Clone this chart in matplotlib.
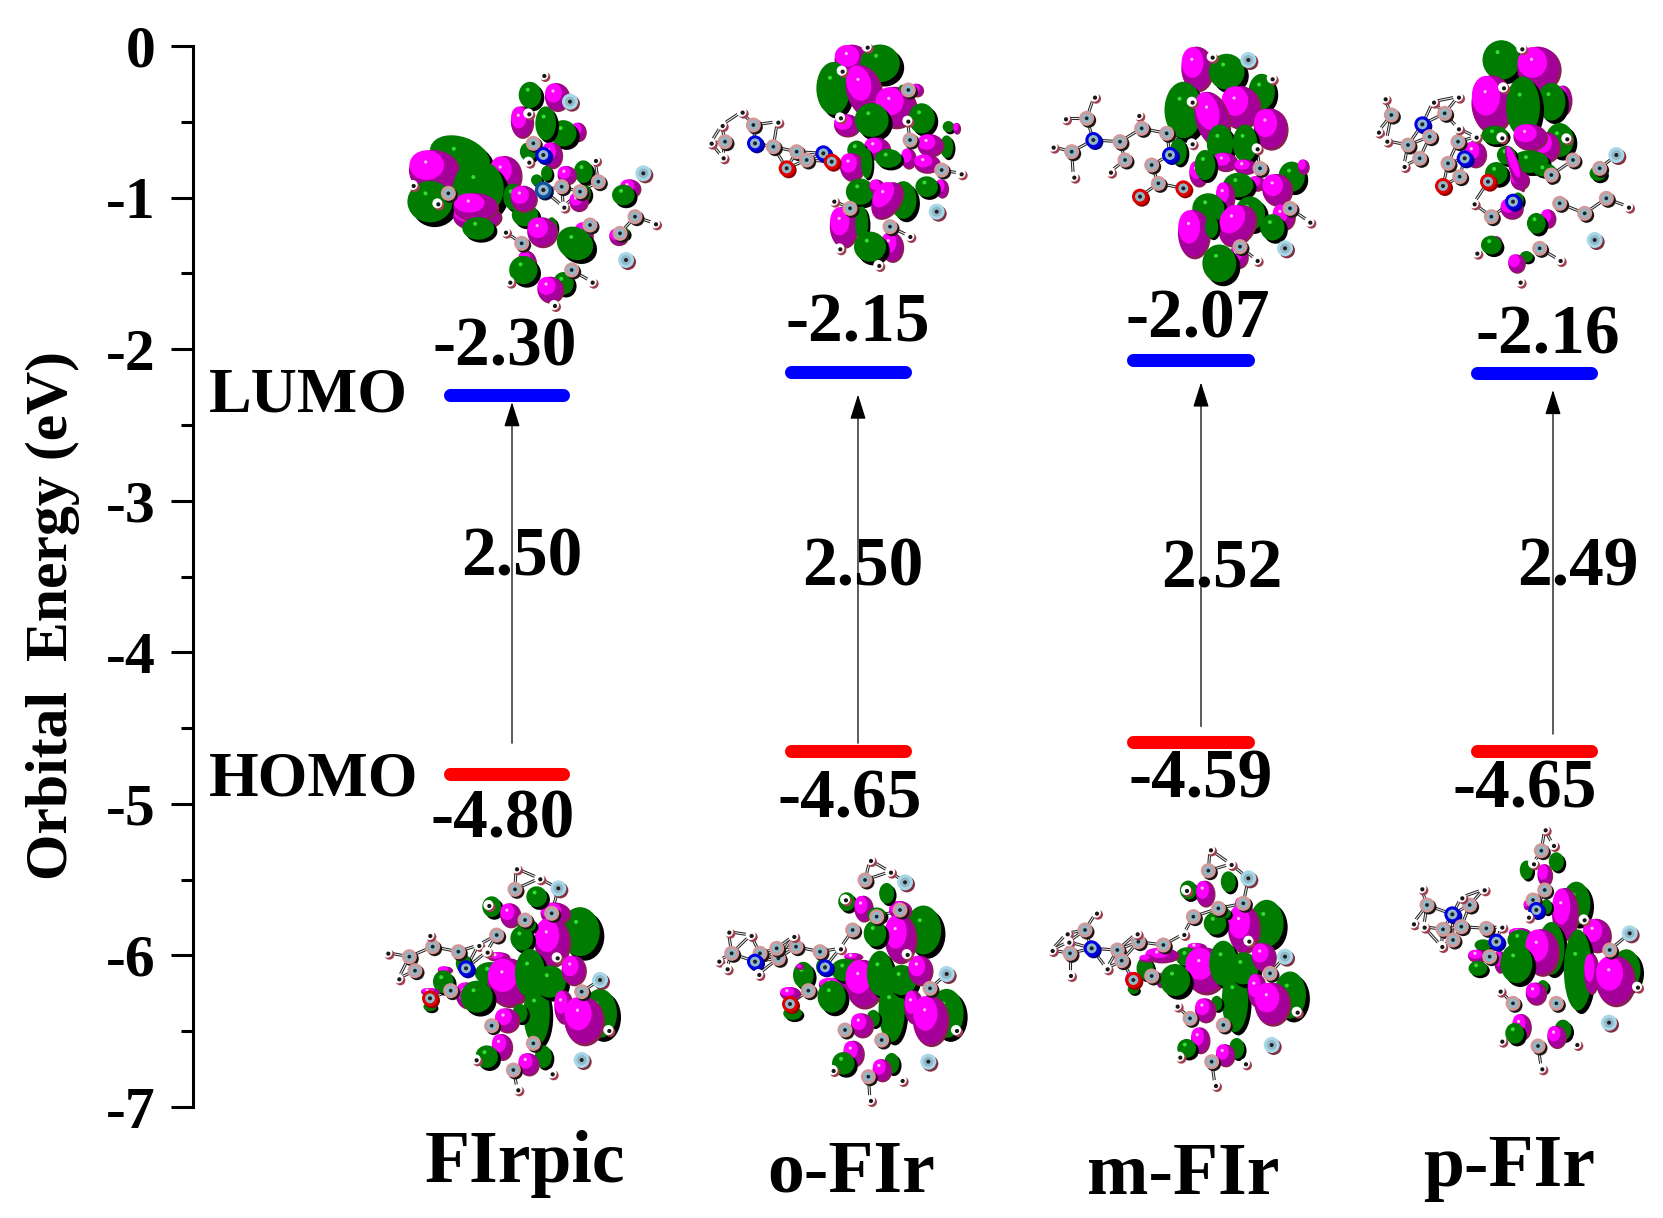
import numpy as np
import matplotlib
matplotlib.use("Agg")
import matplotlib.pyplot as plt
from matplotlib.patches import Ellipse, Circle

plt.rcParams['font.family'] = ['Liberation Serif', 'DejaVu Serif']
plt.rcParams['font.weight'] = 'bold'
plt.rcParams['axes.unicode_minus'] = False

W, H = 1663, 1218

# chart values
names = ['FIrpic', 'o-FIr', 'm-FIr', 'p-FIr']
lumo = [-2.30, -2.15, -2.07, -2.16]
homo = [-4.80, -4.65, -4.59, -4.65]
gap = ['2.50', '2.50', '2.52', '2.49']
arrow_top = [-2.35, -2.30, -2.22, -2.27]
arrow_bottom = [-4.60, -4.60, -4.49, -4.54]
yticks = [0, -1, -2, -3, -4, -5, -6, -7]
yminor = [-0.5, -1.5, -2.5, -3.5, -4.5, -5.5, -6.5]

# layout in pixels of the picture
bar_left = [450, 791, 1133, 1477]
bar_right = [563, 905, 1248, 1591]
arrow_x = [512, 858, 1201, 1553]
lumo_pos = [(505, 365), (858, 341), (1198, 337), (1548, 353)]
homo_pos = [(503, 838), (850, 818), (1201, 798), (1525, 808)]
gap_pos = [(522, 575), (863, 585), (1222, 588), (1578, 586)]
name_pos = [(525, 1182), (851, 1192), (1183, 1194), (1509, 1186)]

# orbital pictures: crop origin, lobes (x, y, w, h, angle, colour), atoms (kind, x, y)
# lobe and atom coordinates were read from 3x zooms
origins = [(380, 60), (700, 30), (1040, 30), (1363, 30),
           (380, 850), (710, 850), (1040, 840), (1363, 820)]

lobes_1 = [(240,290,165,105,20,'g'),(375,345,85,105,0,'m'),(160,332,135,115,0,'m'),(150,425,120,110,0,'g'),
           (295,385,135,150,0,'g'),(290,470,130,70,0,'m'),(285,440,120,75,0,'m'),(295,505,85,60,0,'g'),
           (398,410,50,70,0,'g'),(435,465,70,60,0,'g'),(430,415,70,70,0,'m'),(515,500,30,50,0,'g'),
           (485,515,80,80,0,'m'),(610,525,50,70,0,'m'),(585,550,100,85,30,'g'),(440,610,50,70,0,'m'),
           (430,630,75,75,0,'g'),(550,670,55,60,0,'g'),(510,688,70,70,0,'m'),(735,520,25,30,0,'g'),
           (715,530,50,45,0,'m'),(750,385,55,50,0,'m'),(730,405,60,55,0,'g'),(610,400,40,50,0,'g'),
           (595,425,50,50,0,'m'),(610,335,50,60,0,'g'),(560,345,50,50,0,'m'),(595,215,40,50,0,'m'),
           (550,220,70,70,0,'g'),(445,275,45,50,0,'g'),(425,185,60,85,0,'m'),(497,190,55,90,0,'g'),
           (515,285,55,70,0,'m'),(450,105,60,70,0,'g'),(530,110,65,75,0,'m'),(470,360,30,30,0,'g'),
           (500,340,30,40,0,'g')]
atoms_1 = [('h',490,45),('f',570,125),('h',445,160),('c',460,250),('h',445,305),('n',490,285),('h',645,300),
           ('c',655,365),('c',545,380),('i',490,390),('f',790,340),('c',765,470),('h',825,490),('c',630,495),
           ('c',720,520),('f',738,600),('c',575,630),('h',635,665),('c',425,550),('h',375,515),('h',388,665),
           ('h',522,735),('c',205,400),('h',172,430),('h',98,375),('h',550,440),('c',600,395)]

lobes_2 = [(455,90,95,85,0,'m'),(540,100,105,100,0,'g'),(400,175,90,140,0,'g'),(490,180,95,140,-15,'m'),
           (440,285,70,60,0,'m'),(585,230,110,110,0,'m'),(515,270,90,90,0,'g'),(665,265,70,80,0,'g'),
           (650,180,35,35,0,'m'),(610,175,25,20,0,'g'),(530,355,70,60,0,'m'),(470,360,50,50,0,'g'),
           (625,385,40,55,0,'m'),(565,385,70,50,0,'g'),(455,410,65,75,0,'m'),(500,400,30,80,0,'g'),
           (740,350,35,60,0,'g'),(690,345,70,60,0,'m'),(680,400,70,50,0,'m'),(745,290,30,30,0,'g'),
           (770,295,20,30,0,'m'),(480,485,75,70,0,'g'),(530,470,40,40,0,'m'),(610,510,70,100,0,'g'),
           (560,510,70,110,35,'m'),(725,475,35,50,0,'m'),(680,470,60,55,0,'g'),(430,590,75,110,0,'m'),
           (485,580,35,90,0,'g'),(575,650,60,80,0,'m'),(510,650,85,80,0,'g')]
atoms_2 = [('h',500,50),('h',425,122),('h',420,262),('h',622,272),('c',630,330),('c',725,420),('h',782,430),
           ('f',710,545),('c',570,590),('h',628,618),('h',535,705),('c',450,535),('h',400,512),('h',418,655),
           ('c',625,180),('h',125,245),('c',160,285),('h',232,275),('n',165,340),('c',75,335),('h',65,285),
           ('h',32,338),('h',68,382),('c',220,350),('c',290,365),('c',320,390),('o',260,415),('n',370,370),
           ('o',395,395)]

lobes_3 = [(470,115,85,120,0,'m'),(560,125,95,95,0,'g'),(430,240,100,150,0,'g'),(665,185,70,95,0,'g'),
           (600,230,105,115,0,'m'),(515,265,90,150,-15,'m'),(690,295,90,110,0,'m'),(540,340,70,100,0,'g'),
           (615,340,65,100,0,'g'),(415,365,45,70,0,'g'),(555,395,65,50,0,'m'),(615,410,60,40,0,'m'),
           (475,430,50,70,0,'m'),(495,405,55,80,0,'g'),(650,460,45,40,0,'m'),(595,465,80,65,0,'g'),
           (755,440,70,80,0,'g'),(790,410,30,40,0,'m'),(710,478,80,85,0,'m'),(555,500,50,80,0,'m'),
           (505,535,85,80,0,'g'),(630,550,80,90,0,'g'),(590,585,90,120,35,'m'),(730,560,60,70,0,'m'),
           (697,592,65,70,0,'g'),(460,610,85,130,0,'m'),(515,590,35,60,0,'g'),(595,680,50,60,0,'m'),
           (538,700,90,100,0,'g')]
atoms_3 = [('h',515,80),('f',625,90),('h',695,145),('h',455,215),('c',380,310),('h',295,255),('c',305,295),
           ('c',240,335),('n',160,330),('c',140,265),('h',162,200),('h',75,265),('c',95,365),('h',38,350),
           ('h',100,440),('c',255,390),('h',210,425),('c',335,405),('n',390,375),('c',355,460),('o',430,475),
           ('o',300,500),('h',650,355),('c',660,415),('c',750,535),('h',808,575),('f',735,655),('c',600,650),
           ('h',650,690),('h',455,340)]

lobes_4 = [(415,90,100,105,0,'g'),(525,115,115,120,0,'m'),(600,210,45,80,0,'m'),(565,215,75,100,0,'g'),
           (385,220,110,155,0,'m'),(480,230,90,160,0,'g'),(395,315,70,50,0,'g'),(590,330,75,90,0,'g'),
           (550,350,70,80,0,'m'),(500,320,90,70,0,'m'),(500,395,100,60,0,'g'),(430,375,50,50,0,'g'),
           (400,430,60,60,0,'g'),(545,420,60,35,0,'g'),(470,450,50,50,0,'m'),(455,415,30,130,-20,'m'),
           (335,372,60,70,0,'m'),(465,510,30,40,0,'g'),(445,535,60,55,0,'m'),(555,565,40,50,0,'m'),
           (520,580,50,55,0,'g'),(400,640,30,40,0,'m'),(385,645,55,50,0,'g'),(490,680,35,30,0,'g'),
           (460,700,45,50,0,'m'),(705,430,45,40,0,'g'),(565,440,30,40,0,'m')]
atoms_4 = [('h',475,55),('h',420,172),('h',415,322),('h',610,325),('c',630,390),('c',565,435),('c',710,415),
           ('f',760,375),('c',730,505),('h',795,530),('c',665,550),('f',695,630),('c',590,520),('c',530,655),
           ('h',590,690),('h',470,755),('c',385,560),('h',332,520),('h',340,668),('n',450,515),('h',65,205),
           ('c',85,255),('n',178,283),('c',245,250),('h',210,215),('h',285,200),('h',45,305),('h',70,332),
           ('c',135,345),('c',170,385),('h',122,408),('c',200,320),('c',285,335),('h',285,295),('h',338,320),
           ('c',255,400),('c',290,440),('o',240,468),('o',375,455),('n',305,385)]

lobes_5 = [(600,245,105,130,0,'g'),(525,190,80,60,0,'m'),(515,275,95,130,0,'m'),(470,140,55,55,0,'g'),
           (335,170,50,55,0,'g'),(390,195,55,65,0,'m'),(440,225,50,40,0,'g'),(425,265,60,65,0,'g'),
           (355,320,60,25,0,'m'),(330,370,80,60,0,'g'),(385,395,115,130,0,'m'),(450,370,80,130,0,'g'),
           (470,490,70,170,0,'g'),(510,395,85,85,0,'g'),(580,360,65,80,0,'m'),(660,490,90,130,0,'g'),
           (550,470,50,90,0,'m'),(610,510,105,130,0,'m'),(420,490,40,50,0,'g'),(380,510,65,65,0,'m'),
           (260,435,60,70,0,'m'),(290,440,85,85,0,'g'),(250,340,40,50,0,'g'),(195,360,40,20,0,'m'),
           (190,395,55,60,0,'g'),(365,590,55,70,0,'m'),(320,620,60,60,0,'g'),(490,620,45,60,0,'g'),
           (445,642,55,60,0,'m'),(150,425,50,20,0,'m'),(150,470,35,25,0,'g')]
atoms_5 = [('h',408,55),('c',405,118),('h',478,85),('f',535,115),('c',515,190),('c',435,210),('c',350,255),
           ('h',295,285),('h',320,305),('c',235,305),('n',258,355),('c',158,290),('h',148,255),('c',88,320),
           ('h',22,308),('c',105,362),('h',55,385),('c',212,422),('o',150,445),('h',325,165),('h',530,322),
           ('h',685,540),('f',660,390),('c',605,425),('f',605,630),('c',335,527),('h',287,628),('c',400,660),
           ('h',412,718),('h',515,670),('c',460,580)]

lobes_6 = [(640,240,95,130,0,'g'),(570,180,60,50,0,'m'),(570,265,85,130,0,'m'),(530,130,40,55,0,'g'),
           (410,155,45,50,0,'g'),(460,175,50,70,0,'m'),(500,195,50,40,0,'g'),(495,250,60,70,0,'g'),
           (430,320,50,20,0,'m'),(370,405,80,40,0,'m'),(405,360,75,60,0,'g'),(460,400,100,130,0,'m'),
           (510,370,70,120,0,'g'),(545,480,70,170,0,'g'),(575,390,80,80,0,'g'),(630,360,65,80,0,'m'),
           (710,490,90,130,0,'g'),(610,470,50,90,0,'m'),(660,510,95,135,0,'m'),(490,505,35,45,0,'g'),
           (455,525,60,65,0,'m'),(365,440,75,85,0,'g'),(280,375,55,70,0,'g'),(335,350,30,40,0,'g'),
           (270,350,20,15,0,'m'),(240,430,55,35,0,'m'),(248,490,50,35,0,'g'),(430,610,55,70,0,'m'),
           (400,640,60,60,0,'g'),(545,640,40,55,0,'g'),(515,660,50,60,0,'m')]
atoms_6 = [('h',480,30),('c',465,90),('h',540,65),('f',585,97),('c',570,180),('c',500,200),('c',428,240),
           ('h',390,295),('c',330,305),('n',345,352),('c',258,290),('h',250,258),('c',205,325),('c',150,310),
           ('h',122,255),('n',135,335),('c',65,310),('h',55,245),('h',25,332),('h',50,355),('h',145,372),
           ('c',295,422),('o',240,462),('h',405,148),('h',590,312),('h',738,540),('f',710,372),('c',660,415),
           ('f',655,635),('c',405,540),('h',368,660),('c',475,680),('h',480,750),('h',575,690),('c',515,570),
           ('c',200,295)]

lobes_7 = [(680,250,90,125,0,'g'),(610,190,45,35,0,'m'),(610,265,85,130,0,'m'),(565,125,40,55,0,'g'),
           (445,150,45,50,0,'g'),(495,160,50,70,0,'m'),(550,220,40,30,0,'g'),(525,250,60,60,0,'g'),
           (470,320,50,20,0,'m'),(440,350,60,50,0,'g'),(495,390,110,125,0,'m'),(550,370,75,120,0,'g'),
           (585,480,70,170,0,'g'),(610,385,80,85,0,'g'),(670,350,65,75,0,'m'),(750,465,85,125,0,'g'),
           (650,450,50,90,0,'m'),(695,490,95,115,0,'m'),(530,490,30,40,0,'g'),(495,510,55,65,0,'m'),
           (360,420,20,40,0,'m'),(405,420,80,85,0,'g'),(365,345,90,40,0,'m'),(315,385,45,60,0,'g'),
           (320,355,40,20,0,'m'),(280,420,45,45,0,'m'),(280,448,30,25,0,'g'),(480,600,50,70,0,'m'),
           (440,625,50,50,0,'g'),(590,625,40,55,0,'g'),(555,645,50,60,0,'m')]
atoms_7 = [('h',510,28),('c',505,92),('h',572,72),('f',625,115),('c',610,190),('c',535,205),('c',460,230),
           ('h',430,282),('c',370,315),('c',295,305),('h',290,280),('c',232,330),('c',245,362),('h',200,385),
           ('n',155,325),('c',135,270),('h',168,218),('h',80,280),('h',85,305),('c',90,340),('h',35,330),
           ('h',90,405),('c',335,408),('o',280,420),('h',438,150),('h',625,302),('h',770,515),('f',735,350),
           ('c',690,400),('f',695,615),('c',450,535),('h',410,497),('h',418,650),('c',515,665),('h',525,735),
           ('h',615,670),('c',550,555)]

lobes_8 = [(640,250,75,115,0,'g'),(605,280,70,140,0,'m'),(580,125,40,50,0,'g'),(490,150,35,50,0,'g'),
           (545,165,40,60,0,'m'),(550,260,30,40,0,'g'),(490,255,15,25,0,'m'),(700,345,75,90,0,'m'),
           (470,340,60,30,0,'m'),(470,360,65,55,0,'g'),(565,385,70,140,0,'g'),(535,395,90,125,0,'m'),
           (645,450,75,215,0,'g'),(790,450,75,110,0,'g'),(685,460,40,110,0,'m'),(755,480,105,135,0,'m'),
           (410,425,30,60,0,'m'),(460,430,85,105,0,'g'),(540,500,30,35,0,'g'),(518,520,55,60,0,'m'),
           (360,375,45,30,0,'g'),(345,408,55,35,0,'m'),(345,445,50,40,0,'g'),(475,620,50,70,0,'m'),
           (455,640,50,55,0,'g'),(600,630,45,55,0,'g'),(580,650,50,60,0,'m')]
atoms_8 = [('h',545,28),('c',535,92),('h',570,75),('h',510,130),('c',545,210),('c',510,240),('n',520,270),
           ('h',495,290),('h',662,298),('c',740,390),('f',800,340),('h',822,500),('f',738,608),('c',580,550),
           ('c',450,550),('h',410,512),('h',415,662),('c',525,678),('h',535,745),('h',640,672),('n',268,283),
           ('c',192,255),('h',175,205),('h',150,310),('h',182,320),('c',240,328),('c',270,360),('h',235,378),
           ('c',320,255),('h',295,232),('h',362,208),('c',295,320),('c',370,325),('h',415,320),('c',380,410),
           ('n',400,365)]

all_lobes = [lobes_1, lobes_2, lobes_3, lobes_4, lobes_5, lobes_6, lobes_7, lobes_8]
all_atoms = [atoms_1, atoms_2, atoms_3, atoms_4, atoms_5, atoms_6, atoms_7, atoms_8]

atom_size = {'h': 5, 'c': 7.5, 'f': 8, 'n': 8, 'o': 8, 'i': 8.5}
atom_face = {'h': 'white', 'c': '#d09a9a', 'f': '#a8d8e8', 'n': '#0000e0', 'o': '#e00000', 'i': '#1050a0'}
atom_shadow = {'h': '#a04050', 'c': '#201515', 'f': '#803040', 'n': '#000090', 'o': '#900000', 'i': '#001040'}
lobe_grow = 1.13


def draw_lobe(a, x, y, w, h, angle, col):
    # y axis of this axes points down so the angle sign stays as read
    w, h = w * lobe_grow, h * lobe_grow
    d = min(w, h) * 0.09 + 1
    if col == 'g':
        a.add_patch(Ellipse((x + d, y + d), w, h, angle=angle, fc='black', ec='none'))
        a.add_patch(Ellipse((x, y), w, h, angle=angle, fc='#007c00', ec='none'))
        if w > 18:
            a.add_patch(Circle((x - w * 0.1, y - h * 0.2), 2, fc='#30e030', ec='none'))
    else:
        a.add_patch(Ellipse((x + d * 0.4, y + d * 0.4), w, h, angle=angle, fc='#8a1f55', ec='none'))
        a.add_patch(Ellipse((x, y), w * 0.96, h * 0.96, angle=angle, fc='#a5009a', ec='none'))
        a.add_patch(Ellipse((x - w * 0.13, y - h * 0.13), w * 0.68, h * 0.68, angle=angle, fc='#ff00ff', ec='none'))
        if w > 18:
            a.add_patch(Circle((x - w * 0.15, y - h * 0.2), 1.6, fc='#ffc0f0', ec='none'))


def draw_atom(a, kind, x, y):
    r = atom_size[kind]
    a.add_patch(Circle((x + 2, y + 2), r, fc=atom_shadow[kind], ec='none'))
    a.add_patch(Circle((x, y), r, fc=atom_face[kind], ec='none'))
    if kind != 'h':
        a.add_patch(Circle((x, y), r * 0.62, fc='#90b8c8', ec='none'))
        a.add_patch(Circle((x, y), r * 0.25, fc='#202020', ec='none'))
    else:
        a.add_patch(Circle((x + 1, y + 1), r * 0.42, fc='#181818', ec='none'))


fig = plt.figure(figsize=(W / 100, H / 100), dpi=100)

# pixel axes for the orbital pictures and the free labels
pic = fig.add_axes([0, 0, 1, 1])
pic.set_xlim(0, W)
pic.set_ylim(H, 0)
pic.axis('off')

for org, lobes, atoms in zip(origins, all_lobes, all_atoms):
    pts = [(k, org[0] + x / 3, org[1] + y / 3) for k, x, y in atoms]
    for i in range(len(pts)):
        for j in range(i + 1, len(pts)):
            if np.hypot(pts[i][1] - pts[j][1], pts[i][2] - pts[j][2]) < 27:
                pic.plot([pts[i][1], pts[j][1]], [pts[i][2], pts[j][2]], color='#202020', lw=2.2, zorder=1)
                pic.plot([pts[i][1], pts[j][1]], [pts[i][2], pts[j][2]], color='#e8e8e8', lw=0.8, zorder=1)
    for x, y, w, h, ang, col in lobes:
        draw_lobe(pic, org[0] + x / 3, org[1] + y / 3, w / 3, h / 3, ang, col)
    for k, x, y in pts:
        draw_atom(pic, k, x, y)

# chart axes: x runs in picture pixels, y in eV
ax = fig.add_axes([193 / W, 1 - 1107 / H, 1 - 193 / W, 1061 / H])
ax.patch.set_alpha(0)
ax.set_xlim(193, W)
ax.set_ylim(-7, 0)
for s in ['top', 'right', 'bottom']:
    ax.spines[s].set_visible(False)
ax.spines['left'].set_linewidth(2.2)
ax.set_xticks([])
ax.set_yticks(yticks)
ax.set_yticklabels([str(t) for t in yticks], fontsize=43, fontweight='bold')
ax.set_yticks(yminor, minor=True)
ax.tick_params(axis='y', which='major', length=16, width=2.2, pad=11)
ax.tick_params(axis='y', which='minor', length=8.5, width=2.2)
ax.set_ylabel('Orbital  Energy (eV)', fontsize=43, fontweight='bold')
ax.yaxis.set_label_coords((80 - 193) / (W - 193), (1107 - 616) / 1061)

ax.hlines(lumo, bar_left, bar_right, color='#0000ff', lw=9.4, capstyle='round')
ax.hlines(homo, bar_left, bar_right, color='#ff0000', lw=9.4, capstyle='round')

for i in range(4):
    ax.annotate('', xy=(arrow_x[i], arrow_top[i]), xytext=(arrow_x[i], arrow_bottom[i]),
                arrowprops=dict(arrowstyle='-|>,head_length=1.1,head_width=0.35', mutation_scale=14,
                                color='black', lw=0.9, shrinkA=0, shrinkB=0))
    pic.text(lumo_pos[i][0], lumo_pos[i][1], f'{lumo[i]:.2f}', fontsize=50, ha='center', va='baseline')
    pic.text(homo_pos[i][0], homo_pos[i][1], f'{homo[i]:.2f}', fontsize=50, ha='center', va='baseline')
    pic.text(gap_pos[i][0], gap_pos[i][1], gap[i], fontsize=50, ha='center', va='baseline', zorder=5)
    pic.text(name_pos[i][0], name_pos[i][1], names[i], fontsize=53, ha='center', va='baseline')

pic.text(209, 412, 'LUMO', fontsize=46, ha='left', va='baseline')
pic.text(209, 795, 'HOMO', fontsize=46, ha='left', va='baseline')

plt.savefig('out.png', dpi=100)
